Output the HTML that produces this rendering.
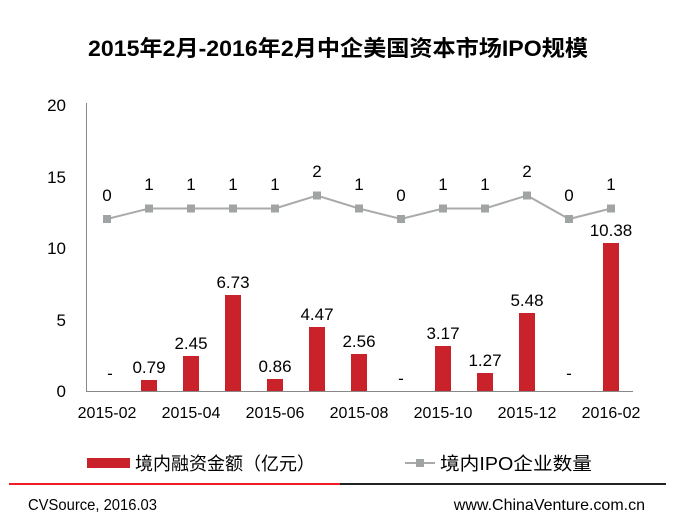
<!DOCTYPE html>
<html><head><meta charset="utf-8"><style>
body{margin:0;background:#fff;}
svg{display:block;font-family:"Liberation Sans","Noto Sans CJK SC",sans-serif;}
</style></head><body>
<svg width="675" height="520" viewBox="0 0 675 520">
<text x="338" y="56" text-anchor="middle" font-size="22" font-weight="bold" textLength="500" lengthAdjust="spacingAndGlyphs">2015年2月-2016年2月中企美国资本市场IPO规模</text>
<line x1="86.5" y1="103" x2="86.5" y2="391" stroke="#888" stroke-width="1"/>
<line x1="86" y1="391.5" x2="633" y2="391.5" stroke="#888" stroke-width="1"/>
<g font-size="17" text-anchor="end">
<text x="66" y="397">0</text><text x="66" y="326">5</text><text x="66" y="254">10</text><text x="66" y="183">15</text><text x="66" y="111">20</text>
</g>
<g fill="#c9222a">
<rect x="141" y="380" width="16" height="11"/>
<rect x="183" y="356" width="16" height="35"/>
<rect x="225" y="295" width="16" height="96"/>
<rect x="267" y="379" width="16" height="12"/>
<rect x="309" y="327" width="16" height="64"/>
<rect x="351" y="354" width="16" height="37"/>
<rect x="435" y="346" width="16" height="45"/>
<rect x="477" y="373" width="16" height="18"/>
<rect x="519" y="313" width="16" height="78"/>
<rect x="603" y="243" width="16" height="148"/>
</g>
<g font-size="17" text-anchor="middle">
<text x="110" y="379">-</text><text x="149" y="373">0.79</text><text x="191" y="349">2.45</text><text x="233" y="288">6.73</text>
<text x="275" y="372">0.86</text><text x="317" y="320">4.47</text><text x="359" y="347">2.56</text><text x="401" y="384">-</text>
<text x="443" y="339">3.17</text><text x="485" y="366">1.27</text><text x="527" y="306">5.48</text><text x="569" y="379">-</text>
<text x="611" y="236">10.38</text>
</g>
<polyline fill="none" stroke="#aaa" stroke-width="2" points="107,219 149,208.5 191,208.5 233,208.5 275,208.5 317,195.5 359,208.5 401,219 443,208.5 485,208.5 527,195.5 569,219 611,208.5"/>
<g fill="#a0a4a4">
<rect x="103" y="215" width="8" height="8"/><rect x="145" y="204.5" width="8" height="8"/><rect x="187" y="204.5" width="8" height="8"/><rect x="229" y="204.5" width="8" height="8"/><rect x="271" y="204.5" width="8" height="8"/><rect x="313" y="191.5" width="8" height="8"/><rect x="355" y="204.5" width="8" height="8"/><rect x="397" y="215" width="8" height="8"/><rect x="439" y="204.5" width="8" height="8"/><rect x="481" y="204.5" width="8" height="8"/><rect x="523" y="191.5" width="8" height="8"/><rect x="565" y="215" width="8" height="8"/><rect x="607" y="204.5" width="8" height="8"/>
</g>
<g font-size="17" text-anchor="middle">
<text x="107" y="201">0</text><text x="149" y="190">1</text><text x="191" y="190">1</text><text x="233" y="190">1</text><text x="275" y="190">1</text><text x="317" y="177">2</text><text x="359" y="190">1</text><text x="401" y="201">0</text><text x="443" y="190">1</text><text x="485" y="190">1</text><text x="527" y="177">2</text><text x="569" y="201">0</text><text x="611" y="190">1</text>
</g>
<g font-size="16" text-anchor="middle">
<text x="107" y="418">2015-02</text><text x="191" y="418">2015-04</text><text x="275" y="418">2015-06</text><text x="359" y="418">2015-08</text><text x="443" y="418">2015-10</text><text x="527" y="418">2015-12</text><text x="611" y="418">2016-02</text>
</g>
<rect x="87" y="458" width="43" height="10" fill="#c9222a"/>
<text x="135" y="470" font-size="18" textLength="180" lengthAdjust="spacingAndGlyphs">境内融资金额（亿元）</text>
<line x1="405" y1="463" x2="435" y2="463" stroke="#aaa" stroke-width="2"/>
<rect x="416" y="459" width="8" height="8" fill="#a0a4a4"/>
<text x="440" y="470" font-size="18" textLength="152" lengthAdjust="spacingAndGlyphs">境内IPO企业数量</text>
<line x1="9" y1="484" x2="340" y2="484" stroke="#f01e24" stroke-width="2"/>
<line x1="340" y1="484" x2="666" y2="484" stroke="#222" stroke-width="2"/>
<text x="28" y="510" font-size="16" textLength="129" lengthAdjust="spacingAndGlyphs">CVSource, 2016.03</text>
<text x="645" y="510" font-size="16" text-anchor="end">www.ChinaVenture.com.cn</text>
</svg>
</body></html>
